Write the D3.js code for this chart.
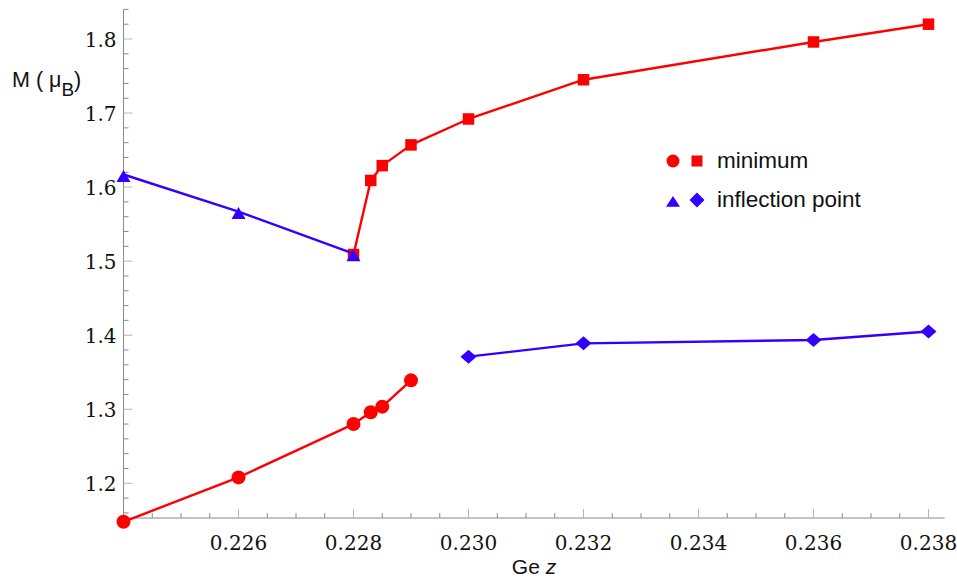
<!DOCTYPE html>
<html>
<head>
<meta charset="utf-8">
<script src="https://cdn.jsdelivr.net/npm/d3@7"></script>
<style>
  body { margin: 0; background: #fff; }
  svg { display: block; }
</style>
</head>
<body>
<div id="chart"></div>
<script>
// minimum: circles (low branch) and squares (high branch)
var zMinCirc = [0.224, 0.226, 0.228, 0.2283, 0.2285, 0.229];
var mMinCirc = [1.148, 1.208, 1.280, 1.296, 1.3035, 1.339];
var zMinSq = [0.228, 0.2283, 0.2285, 0.229, 0.230, 0.232, 0.236, 0.238];
var mMinSq = [1.509, 1.609, 1.629, 1.657, 1.692, 1.745, 1.796, 1.820];
// inflection point: triangles and diamonds
var zInfTri = [0.224, 0.226, 0.228];
var mInfTri = [1.617, 1.567, 1.510];
var zInfDia = [0.230, 0.232, 0.236, 0.238];
var mInfDia = [1.371, 1.389, 1.3935, 1.405];

var xTicks = [0.226, 0.228, 0.230, 0.232, 0.234, 0.236, 0.238];
var yTicks = [1.2, 1.3, 1.4, 1.5, 1.6, 1.7, 1.8];
var legendItems = ["minimum", "inflection point"];

var red = "#ff0000", blue = "#3300ff";
var axisCol = "#8a8a8a";
var serifFont = "'DejaVu Serif', serif";
var sansFont = "'Liberation Sans', Arial, Helvetica, sans-serif";

var svg = d3.select("#chart").append("svg")
    .attr("width", 957)
    .attr("height", 580);

// scales: axes cross at (0.224, 1.153)
var x = d3.scaleLinear().domain([0.224, 0.238]).range([123.5, 928.5]);
var y = d3.scaleLinear().domain([1.2, 1.8]).range([483.3, 39]);
var xMin = 0.224, xMax = 0.23828, yMin = 1.1531, yMax = 1.84;

var axes = svg.append("g");

function isMajorX(d) { return Math.abs(Math.round(d / 0.002) * 0.002 - d) < 1e-7; }
function isMajorY(d) { return Math.abs(Math.round(d * 10) / 10 - d) < 1e-7; }

// x axis line + ticks (pointing up)
axes.append("line")
    .attr("x1", x(xMin)).attr("x2", x(xMax))
    .attr("y1", y(yMin)).attr("y2", y(yMin))
    .attr("stroke", axisCol).attr("stroke-width", 1);

var xMinor = d3.range(0.2245, 0.23801, 0.0005);
axes.selectAll(".xminor").data(xMinor).enter().append("line")
    .attr("x1", function (d) { return x(d); })
    .attr("x2", function (d) { return x(d); })
    .attr("y1", y(yMin))
    .attr("y2", function (d) { return y(yMin) - (isMajorX(d) ? 9 : 5); })
    .attr("stroke", function (d) { return isMajorX(d) ? "#b5b5b5" : axisCol; })
    .attr("stroke-width", 1);

axes.selectAll(".xlab").data(xTicks).enter().append("text")
    .style("font-family", serifFont)
    .attr("x", function (d) { return x(d); })
    .attr("y", 550)
    .attr("text-anchor", "middle")
    .attr("font-size", 20)
    .attr("fill", "#111")
    .text(function (d) { return d3.format(".3f")(d); });

// y axis line + ticks (pointing right)
axes.append("line")
    .attr("x1", x(xMin)).attr("x2", x(xMin))
    .attr("y1", y(yMin)).attr("y2", y(yMax))
    .attr("stroke", axisCol).attr("stroke-width", 1);

var yMinorTicks = d3.range(1.16, 1.8401, 0.02);
axes.selectAll(".yminor").data(yMinorTicks).enter().append("line")
    .attr("x1", x(xMin))
    .attr("x2", function (d) { return x(xMin) + (isMajorY(d) ? 9 : 5); })
    .attr("y1", function (d) { return y(d); })
    .attr("y2", function (d) { return y(d); })
    .attr("stroke", function (d) { return isMajorY(d) ? "#b5b5b5" : axisCol; })
    .attr("stroke-width", 1);

axes.selectAll(".ylab").data(yTicks).enter().append("text")
    .style("font-family", serifFont)
    .attr("x", x(xMin) - 7)
    .attr("y", function (d) { return y(d) + 7.5; })
    .attr("text-anchor", "end")
    .attr("font-size", 20)
    .attr("fill", "#111")
    .text(function (d) { return d3.format(".1f")(d); });

// axis labels
var yl = svg.append("text")
    .style("font-family", sansFont)
    .attr("x", 12).attr("y", 87)
    .attr("font-size", 21.5)
    .attr("fill", "#111");
yl.append("tspan").text("M ( \u03bc");
yl.append("tspan").attr("dy", 9).attr("font-size", 19).text("B");
yl.append("tspan").attr("dy", -9).text(")");

var xl = svg.append("text")
    .style("font-family", sansFont)
    .attr("x", (x(xMin) + x(xMax)) / 2).attr("y", 574)
    .attr("text-anchor", "middle")
    .attr("font-size", 21)
    .attr("fill", "#111");
xl.append("tspan").text("Ge ");
xl.append("tspan").attr("font-style", "italic").text("z");

// marker shapes
function circlePath(r) { return d3.symbol(d3.symbolCircle, Math.PI * r * r)(); }
function squarePath(s) { return "M" + (-s / 2) + "," + (-s / 2) + "h" + s + "v" + s + "h" + (-s) + "Z"; }
function trianglePath(w, h) { return "M0," + (-h * 0.45) + "L" + (w / 2) + "," + (h * 0.75) + "L" + (-w / 2) + "," + (h * 0.75) + "Z"; }
function diamondPath(w, h) { return "M0," + (-h / 2) + "L" + (w / 2) + ",0L0," + (h / 2) + "L" + (-w / 2) + ",0Z"; }

var line = d3.line()
    .x(function (d) { return x(d[0]); })
    .y(function (d) { return y(d[1]); });

function series(zs, ms, colour, shape) {
    var pts = zs.map(function (z, i) { return [z, ms[i]]; });
    var g = svg.append("g");
    g.append("path")
        .attr("d", line(pts))
        .attr("fill", "none")
        .attr("stroke", colour)
        .attr("stroke-width", 2.4)
        .attr("stroke-linejoin", "round");
    g.selectAll("path.mk").data(pts).enter().append("path")
        .attr("class", "mk")
        .attr("transform", function (d) { return "translate(" + x(d[0]) + "," + y(d[1]) + ")"; })
        .attr("d", shape)
        .attr("fill", colour);
}

series(zMinCirc, mMinCirc, red, circlePath(7));
series(zMinSq, mMinSq, red, squarePath(11.5));
series(zInfTri, mInfTri, blue, trianglePath(14, 10));
series(zInfDia, mInfDia, blue, diamondPath(16, 14));

// legend
var legend = svg.append("g");
var legendShapes = [[circlePath(6.5), squarePath(11)], [trianglePath(14, 9), diamondPath(15, 15)]];
var legendColours = [red, blue];
var legendY = [161, 200];
legendItems.forEach(function (name, i) {
    legend.append("path")
        .attr("transform", "translate(673," + legendY[i] + ")")
        .attr("d", legendShapes[i][0])
        .attr("fill", legendColours[i]);
    legend.append("path")
        .attr("transform", "translate(697," + legendY[i] + ")")
        .attr("d", legendShapes[i][1])
        .attr("fill", legendColours[i]);
    legend.append("text")
        .style("font-family", sansFont)
        .attr("x", 717)
        .attr("y", legendY[i] + 6.5)
        .attr("font-size", 22.5)
        .attr("fill", "#111")
        .text(name);
});
</script>
</body>
</html>
